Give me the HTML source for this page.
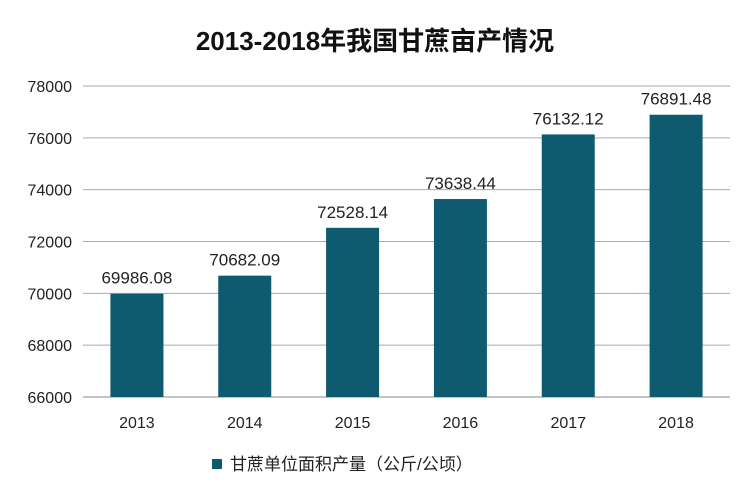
<!DOCTYPE html>
<html><head><meta charset="utf-8"><style>
body{margin:0;background:#fff;}
svg{display:block;font-family:"Liberation Sans","Noto Sans CJK SC",sans-serif;}
</style></head><body>
<svg id="chart" width="750" height="500">
<text x="375" y="50" text-anchor="middle" font-size="26" font-weight="bold" fill="#111">2013-2018年我国甘蔗亩产情况</text>
<g id="grid"></g><g id="bars"></g>
<g>
<rect x="212" y="459" width="10" height="10" fill="#0e5a6e"/>
<text x="230" y="470" font-size="17" fill="#222">甘蔗单位面积产量（公斤/公顷）</text>
</g>
</svg>
<script>
const categories=["2013","2014","2015","2016","2017","2018"];
const values=[69986.08,70682.09,72528.14,73638.44,76132.12,76891.48];
const yTicks=[66000,68000,70000,72000,74000,76000,78000];
const NS="http://www.w3.org/2000/svg";
const x0=83,x1=730,yTop=86,yBot=397,yMin=66000,yMax=78000;
const y=v=>yBot-(v-yMin)/(yMax-yMin)*(yBot-yTop);
const band=(x1-x0)/categories.length;
const x=i=>x0+band*i+band/2;
function mk(t,a,p){const e=document.createElementNS(NS,t);for(const k in a)e.setAttribute(k,a[k]);p.appendChild(e);return e;}
const g=document.getElementById('grid'),b=document.getElementById('bars');
yTicks.forEach(t=>{
 const l=mk('line',{x1:x0,x2:x1,y1:y(t),y2:y(t),stroke:t===yMin?'#888':'#aaa','stroke-width':1},g);
 
 
 const tx=mk('text',{x:72,y:y(t)+6,'text-anchor':'end','font-size':16,fill:'#222'},g);
 tx.textContent=t;
 
 
});
categories.forEach((c,i)=>{
 const bw=53;
 const r=mk('rect',{x:x(i)-bw/2,y:y(values[i]),width:bw,height:yBot-y(values[i]),fill:'#0e5a6e'},b);
 
 
 const v=mk('text',{x:x(i),y:y(values[i])-10,'text-anchor':'middle','font-size':17,fill:'#222'},b);
 v.textContent=values[i].toFixed(2);
 
 
 const xl=mk('text',{x:x(i),y:428,'text-anchor':'middle','font-size':16,fill:'#222'},b);
 xl.textContent=c;
 
 
});
</script>
</body></html>
